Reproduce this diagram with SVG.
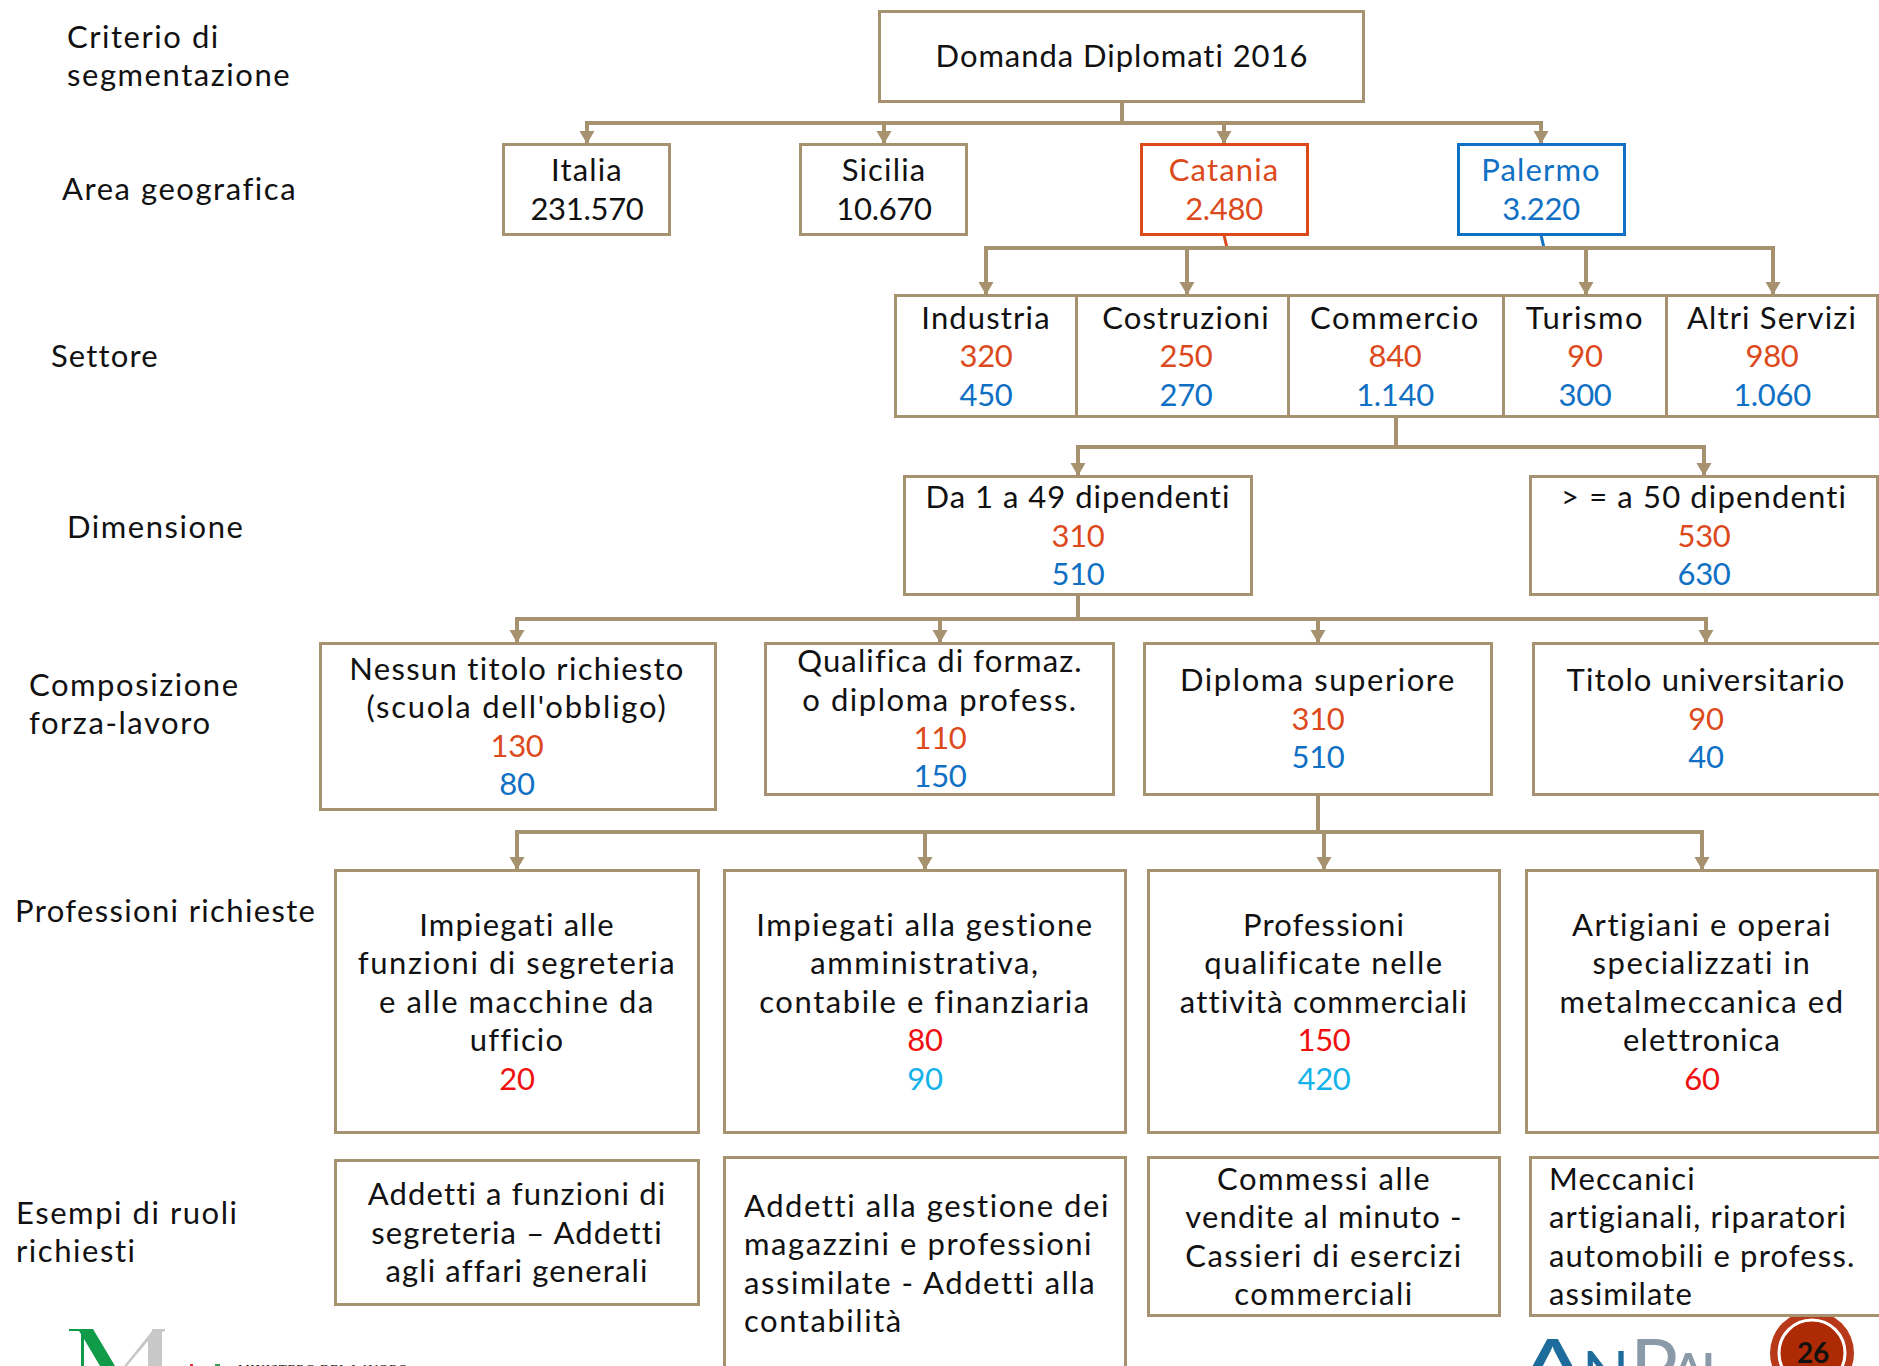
<svg xmlns="http://www.w3.org/2000/svg" width="1879" height="1366" viewBox="0 0 1879 1366">
<style>
text{font-family:"Lato","Liberation Sans",sans-serif;font-size:31px;fill:#111;letter-spacing:1.15px;font-variant-ligatures:none}
.m{text-anchor:middle}
.n{letter-spacing:-.3px}
.r{fill:#dc4a1c;letter-spacing:-.3px}.b{fill:#0f70c4;letter-spacing:-.3px}.rr{fill:#f01010;letter-spacing:-.3px}.c{fill:#15b2ea;letter-spacing:-.3px}
.w{letter-spacing:1.15px}
.l{letter-spacing:1.55px}
.box{fill:#fff;stroke:#a79270;stroke-width:3}
.con{fill:none;stroke:#a79270;stroke-width:4}
.lg{font-weight:400;letter-spacing:0}
</style>
<defs>
<marker id="ah" markerUnits="userSpaceOnUse" markerWidth="14" markerHeight="16" refX="13" refY="8" orient="auto"><path d="M0,0.500L13,8L0,15.500Z" fill="#a79270"/></marker>
</defs>
<rect width="1879" height="1366" fill="#fff"/>
<g id="logos">
<path d="M69,1329H93L115,1366H100L84,1339V1366H81V1334L79,1331H69Z" fill="#0f9b48"/>
<path d="M152,1329H165V1331L162,1332V1366H148V1341L127,1366H124L152,1331Z" fill="#c8c8c8"/>
<rect x="190" y="1364" width="3" height="2" fill="#e03030"/><rect x="215" y="1364" width="5" height="2" fill="#3a9a50"/>
<text x="238" y="1373" style="font-family:'Liberation Serif',serif;font-size:13px;letter-spacing:.8px">MINISTERO DEL LAVORO</text>
<text class="lg" transform="translate(1516,1396) scale(1.35,1)" style="font-size:80px;fill:#1d6c9c">A</text>
<text class="lg" x="1582" y="1396" style="font-size:62px;fill:#1d6c9c">N</text>
<text class="lg" x="1630" y="1396" style="font-size:80px;fill:#8b9aa8">P</text>
<text class="lg" x="1668" y="1396" style="font-size:60px;fill:#8b9aa8">A</text>
<text class="lg" x="1700" y="1396" style="font-size:60px;fill:#8b9aa8">L</text>
<circle cx="1812" cy="1353" r="42" fill="#b8391a"/>
<circle cx="1812" cy="1353" r="33" fill="#ad2a04" stroke="#fff" stroke-width="3"/>
<text class="m n" x="1813" y="1363" style="font-size:28px;font-weight:700">26</text>
</g>
<g id="labels">
<text class="l" x="67" y="48">Criterio di</text><text class="l" x="67" y="86">segmentazione</text>
<text class="l" x="62" y="200">Area geografica</text>
<text x="51" y="367">Settore</text>
<text class="l" x="67" y="538">Dimensione</text>
<text class="l" x="29" y="696">Composizione</text><text class="l" x="29" y="734">forza-lavoro</text>
<text style="letter-spacing:1.35px" x="15" y="922">Professioni richieste</text>
<text class="l" x="16" y="1224">Esempi di ruoli</text><text class="l" x="16" y="1262">richiesti</text>
</g>
<g id="connectors">
<path class="con" d="M1122,102V123"/>
<path class="con" d="M585,123H1543"/>
<path class="con" marker-end="url(#ah)" d="M587,123V144"/>
<path class="con" marker-end="url(#ah)" d="M884,123V144"/>
<path class="con" marker-end="url(#ah)" d="M1224,123V144"/>
<path class="con" marker-end="url(#ah)" d="M1541,123V144"/>
<path d="M1224,235L1227,248" fill="none" stroke="#dc4a1c" stroke-width="3"/>
<path d="M1541,235L1544,248" fill="none" stroke="#0f70c4" stroke-width="3"/>
<path class="con" d="M984,248H1775"/>
<path class="con" marker-end="url(#ah)" d="M986,248V295"/>
<path class="con" marker-end="url(#ah)" d="M1187,248V295"/>
<path class="con" marker-end="url(#ah)" d="M1586,248V295"/>
<path class="con" marker-end="url(#ah)" d="M1773,248V295"/>
<path class="con" d="M1396,417V447"/>
<path class="con" d="M1076,447H1706"/>
<path class="con" marker-end="url(#ah)" d="M1078,447V476"/>
<path class="con" marker-end="url(#ah)" d="M1704,447V476"/>
<path class="con" d="M1078,594V619"/>
<path class="con" d="M515,619H1708"/>
<path class="con" marker-end="url(#ah)" d="M517,619V643"/>
<path class="con" marker-end="url(#ah)" d="M940,619V643"/>
<path class="con" marker-end="url(#ah)" d="M1318,619V643"/>
<path class="con" marker-end="url(#ah)" d="M1706,619V643"/>
<path class="con" d="M1318,794V832"/>
<path class="con" d="M515,832H1704"/>
<path class="con" marker-end="url(#ah)" d="M517,832V870"/>
<path class="con" marker-end="url(#ah)" d="M925,832V870"/>
<path class="con" marker-end="url(#ah)" d="M1324,832V870"/>
<path class="con" marker-end="url(#ah)" d="M1702,832V870"/>
</g>
<g id="n-root"><rect class="box" x="879.500" y="11.500" width="484" height="90"/><text class="m" style="letter-spacing:.95px" x="1122" y="67">Domanda Diplomati 2016</text></g>
<g id="n-italia"><rect class="box" x="503.500" y="144.500" width="166" height="90"/><text class="m" x="587" y="181">Italia</text><text class="m n" x="587" y="220">231.570</text></g>
<g id="n-sicilia"><rect class="box" x="800.500" y="144.500" width="166" height="90"/><text class="m" x="884" y="181">Sicilia</text><text class="m n" x="884" y="220">10.670</text></g>
<g id="n-catania"><rect class="box" style="stroke:#dc4a1c" x="1141.500" y="144.500" width="166" height="90"/><text class="m r w" x="1224" y="181">Catania</text><text class="m r" x="1224" y="220">2.480</text></g>
<g id="n-palermo"><rect class="box" style="stroke:#0f70c4" x="1458.500" y="144.500" width="166" height="90"/><text class="m b w" x="1541" y="181">Palermo</text><text class="m b" x="1541" y="220">3.220</text></g>
<g id="n-industria"><rect class="box" x="895.500" y="295.500" width="181" height="121"/><text class="m" x="986" y="329">Industria</text><text class="m r" x="986" y="367">320</text><text class="m b" x="986" y="406">450</text></g>
<g id="n-costruzioni"><rect class="box" x="1076.500" y="295.500" width="212" height="121"/><text class="m" x="1186" y="329">Costruzioni</text><text class="m r" x="1186" y="367">250</text><text class="m b" x="1186" y="406">270</text></g>
<g id="n-commercio"><rect class="box" x="1288.500" y="295.500" width="215" height="121"/><text class="m l" x="1395" y="329">Commercio</text><text class="m r" x="1395" y="367">840</text><text class="m b" x="1395" y="406">1.140</text></g>
<g id="n-turismo"><rect class="box" x="1503.500" y="295.500" width="163" height="121"/><text class="m l" x="1585" y="329">Turismo</text><text class="m r" x="1585" y="367">90</text><text class="m b" x="1585" y="406">300</text></g>
<g id="n-altri"><rect class="box" x="1666.500" y="295.500" width="211" height="121"/><text class="m" x="1772" y="329">Altri Servizi</text><text class="m r" x="1772" y="367">980</text><text class="m b" x="1772" y="406">1.060</text></g>
<g id="n-dim1"><rect class="box" x="904.500" y="476.500" width="347" height="118"/><text class="m" style="letter-spacing:1px" x="1078" y="508">Da 1 a 49 dipendenti</text><text class="m r" x="1078" y="547">310</text><text class="m b" x="1078" y="585">510</text></g>
<g id="n-dim2"><rect class="box" x="1530.500" y="476.500" width="347" height="118"/><text class="m" x="1704" y="508">&gt; = a 50 dipendenti</text><text class="m r" x="1704" y="547">530</text><text class="m b" x="1704" y="585">630</text></g>
<g id="n-nessun"><rect class="box" x="320.500" y="643.500" width="395" height="166"/><text class="m" style="letter-spacing:1.3px" x="517" y="680">Nessun titolo richiesto</text><text class="m" style="letter-spacing:1.8px" x="517" y="718">(scuola dell'obbligo)</text><text class="m r" x="517" y="757">130</text><text class="m b" x="517" y="795">80</text></g>
<g id="n-qualifica"><rect class="box" x="765.500" y="643.500" width="348" height="151"/><text class="m" x="940" y="672">Qualifica di formaz.</text><text class="m l" x="940" y="711">o diploma profess.</text><text class="m r" x="940" y="749">110</text><text class="m b" x="940" y="787">150</text></g>
<g id="n-diploma"><rect class="box" x="1144.500" y="643.500" width="347" height="151"/><text class="m l" x="1318" y="691">Diploma superiore</text><text class="m r" x="1318" y="730">310</text><text class="m b" x="1318" y="768">510</text></g>
<g id="n-titolo"><rect class="box" x="1533.500" y="643.500" width="360" height="151"/><text class="m" x="1706" y="691">Titolo universitario</text><text class="m r" x="1706" y="730">90</text><text class="m b" x="1706" y="768">40</text></g>
<g id="n-imp1"><rect class="box" x="335.500" y="870.500" width="363" height="262"/><text class="m" x="517" y="936">Impiegati alle</text><text class="m l" x="517" y="974">funzioni di segreteria</text><text class="m l" x="517" y="1013">e alle macchine da</text><text class="m" x="517" y="1051">ufficio</text><text class="m rr" x="517" y="1090">20</text></g>
<g id="n-imp2"><rect class="box" x="724.500" y="870.500" width="401" height="262"/><text class="m l" x="925" y="936">Impiegati alla gestione</text><text class="m l" x="925" y="974">amministrativa,</text><text class="m l" x="925" y="1013">contabile e finanziaria</text><text class="m rr" x="925" y="1051">80</text><text class="m c" x="925" y="1090">90</text></g>
<g id="n-prof"><rect class="box" x="1148.500" y="870.500" width="351" height="262"/><text class="m" x="1324" y="936">Professioni</text><text class="m l" x="1324" y="974">qualificate nelle</text><text class="m" x="1324" y="1013">attività commerciali</text><text class="m rr" x="1324" y="1051">150</text><text class="m c" x="1324" y="1090">420</text></g>
<g id="n-art"><rect class="box" x="1526.500" y="870.500" width="351" height="262"/><text class="m l" x="1702" y="936">Artigiani e operai</text><text class="m l" x="1702" y="974">specializzati in</text><text class="m l" x="1702" y="1013">metalmeccanica ed</text><text class="m" x="1702" y="1051">elettronica</text><text class="m rr" x="1702" y="1090">60</text></g>
<g id="n-es1"><rect class="box" x="335.500" y="1160.500" width="363" height="144"/><text class="m" x="517" y="1205">Addetti a funzioni di</text><text class="m" x="517" y="1244">segreteria – Addetti</text><text class="m" x="517" y="1282">agli affari generali</text></g>
<g id="n-es2"><rect class="box" x="724.500" y="1157.500" width="401" height="230"/><text class="l" x="744" y="1217">Addetti alla gestione dei</text><text class="l" x="744" y="1255">magazzini e professioni</text><text class="l" x="744" y="1294">assimilate - Addetti alla</text><text class="l" x="744" y="1332">contabilità</text></g>
<g id="n-es3"><rect class="box" x="1148.500" y="1157.500" width="351" height="158"/><text class="m l" x="1324" y="1190">Commessi alle</text><text class="m" x="1324" y="1228">vendite al minuto -</text><text class="m l" x="1324" y="1267">Cassieri di esercizi</text><text class="m l" x="1324" y="1305">commerciali</text></g>
<g id="n-es4"><rect class="box" x="1530.500" y="1157.500" width="360" height="158"/><text x="1549" y="1190">Meccanici</text><text x="1549" y="1228">artigianali, riparatori</text><text x="1549" y="1267">automobili e profess.</text><text x="1549" y="1305">assimilate</text></g>
</svg>
